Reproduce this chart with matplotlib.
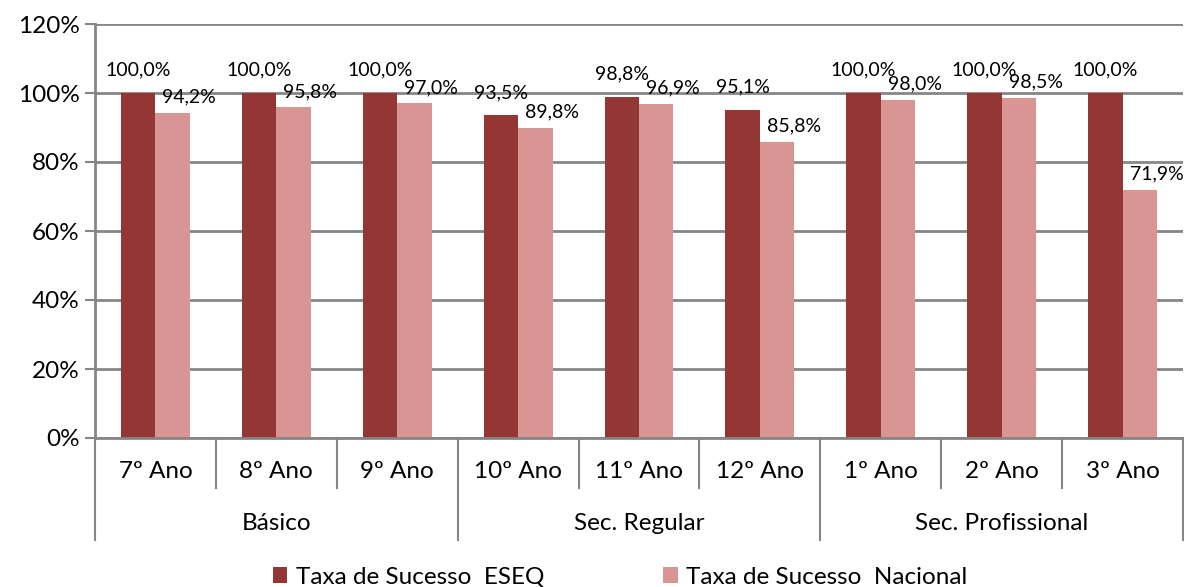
import matplotlib
matplotlib.use("Agg")
import matplotlib.pyplot as plt
import matplotlib.transforms as mtransforms
from matplotlib.ticker import FuncFormatter

categories = ["7º Ano", "8º Ano", "9º Ano", "10º Ano", "11º Ano", "12º Ano",
              "1º Ano", "2º Ano", "3º Ano"]
groups = ["Básico", "Sec. Regular", "Sec. Profissional"]
group_sizes = [3, 3, 3]
eseq = [100.0, 100.0, 100.0, 93.5, 98.8, 95.1, 100.0, 100.0, 100.0]
nacional = [94.2, 95.8, 97.0, 89.8, 96.9, 85.8, 98.0, 98.5, 71.9]
series_names = ["Taxa de Sucesso  ESEQ", "Taxa de Sucesso  Nacional"]
yticks = [0, 20, 40, 60, 80, 100, 120]

plt.rcParams['font.family'] = ['Lato', 'DejaVu Sans']

c_eseq = "#943634"
c_nac = "#D99594"
grid_c = "#868686"

W, H = 1184, 587
fig = plt.figure(figsize=(W / 100, H / 100), dpi=100)
ax = fig.add_axes([95 / W, (H - 438) / H, (1183 - 95) / W, (438 - 24) / H])

n = len(categories)
xs = list(range(n))
bw = 0.285
ax.bar([x - bw / 2 for x in xs], eseq, width=bw, color=c_eseq, zorder=3,
       label=series_names[0])
ax.bar([x + bw / 2 for x in xs], nacional, width=bw, color=c_nac, zorder=3,
       label=series_names[1])

fmt = lambda v: f"{v:.1f}%".replace(".", ",")
for x, v in zip(xs, eseq):
    ax.annotate(fmt(v), (x - bw / 2, v), xytext=(0, 16.5), textcoords="offset points",
                ha="center", va="center", fontsize=14, color="black", zorder=4)
for x, v in zip(xs, nacional):
    ax.annotate(fmt(v), (x + bw / 2, v), xytext=(12, 11.5), textcoords="offset points",
                ha="center", va="center", fontsize=14, color="black", zorder=4)

ax.set_xlim(-0.5, n - 0.5)
ax.set_ylim(0, 120)
ax.set_yticks(yticks)
ax.yaxis.set_major_formatter(FuncFormatter(lambda v, p: f"{v:.0f}%"))
ax.tick_params(axis="y", labelsize=17.5, length=7, width=1.5, color=grid_c, pad=4)
ax.set_xticks([])
ax.grid(axis="y", color=grid_c, linewidth=2, zorder=0)
for s in ["top", "right", "bottom"]:
    ax.spines[s].set_visible(False)
ax.spines["left"].set_color(grid_c)
ax.spines["left"].set_linewidth(2)

# multi-level category axis
trans = mtransforms.blended_transform_factory(ax.transData, ax.transAxes)
px = 1 / (438 - 24)
y0 = 0
y1 = -50 * px
y2 = -102 * px
ax.plot([-0.5, n - 0.5], [0, 0], transform=trans, color=grid_c, lw=2, clip_on=False, zorder=5)
for i in range(n):
    ax.text(i, -34 * px, categories[i], transform=trans, ha="center", va="center", fontsize=17.5)
bounds = [-0.5]
for g in group_sizes:
    bounds.append(bounds[-1] + g)
for i in range(n + 1):
    b = i - 0.5
    if b in bounds:
        ax.plot([b, b], [y0, y2], transform=trans, color=grid_c, lw=1.5, clip_on=False)
    else:
        ax.plot([b, b], [y0, y1], transform=trans, color=grid_c, lw=1.5, clip_on=False)
for gi, g in enumerate(groups):
    c = (bounds[gi] + bounds[gi + 1]) / 2
    ax.text(c, -85 * px, g, transform=trans, ha="center", va="center", fontsize=17.5)

fig.legend(loc="center", bbox_to_anchor=(620 / W, 1 - 577 / H), ncol=2, frameon=False,
           fontsize=17.5, handlelength=0.6, handleheight=0.6, handletextpad=0.35,
           columnspacing=4.9, borderpad=0)

fig.savefig("out.png", dpi=100)
